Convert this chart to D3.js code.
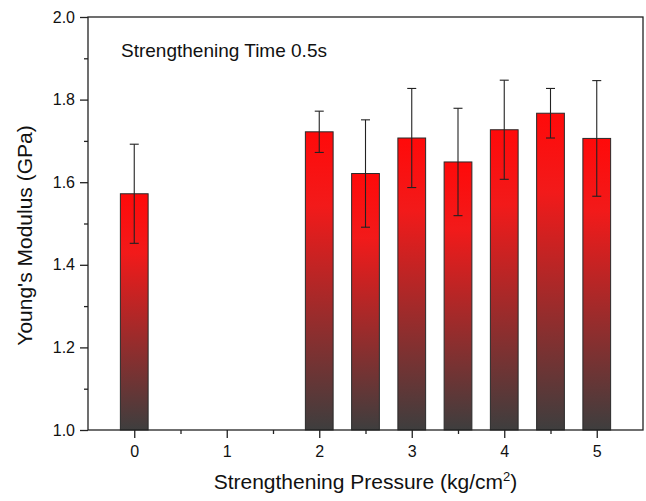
<!DOCTYPE html>
<html>
<head>
<meta charset="utf-8">
<script src="https://cdn.jsdelivr.net/npm/d3@7"></script>
<style>
  body { margin: 0; background: #fff; }
  svg { font-family: "Liberation Sans", Arial, sans-serif; }
</style>
</head>
<body>
<div id="chart"></div>
<script>
// data
const pressures = [0, 2, 2.5, 3, 3.5, 4, 4.5, 5];
const modulus = [1.572, 1.722, 1.621, 1.707, 1.649, 1.727, 1.767, 1.706];
const errors = [0.12, 0.05, 0.13, 0.12, 0.13, 0.12, 0.06, 0.14];
const xTicks = [0, 1, 2, 3, 4, 5];
const yTicks = [1.0, 1.2, 1.4, 1.6, 1.8, 2.0];

const width = 646, height = 501;
const margin = {top: 17, right: 3, bottom: 71, left: 88};

const svg = d3.select('#chart').append('svg')
    .attr('width', width)
    .attr('height', height);

const x = d3.scaleLinear().domain([-0.5, 5.5]).range([margin.left, width - margin.right]);
const y = d3.scaleLinear().domain([1.0, 2.0]).range([height - margin.bottom, margin.top]);

// gradient red -> dark grey, per bar
const grad = svg.append('defs').append('linearGradient')
    .attr('id', 'barGrad')
    .attr('x1', 0).attr('y1', 0).attr('x2', 0).attr('y2', 1);
grad.append('stop').attr('offset', '0%').attr('stop-color', '#ff0a0a');
grad.append('stop').attr('offset', '25%').attr('stop-color', '#f21a1a');
grad.append('stop').attr('offset', '100%').attr('stop-color', '#3e3e3e');

const barW = x(0.3) - x(0);

svg.append('g')
    .selectAll('rect')
    .data(pressures)
    .enter().append('rect')
    .attr('x', d => x(d) - barW / 2)
    .attr('y', (d, i) => y(modulus[i]))
    .attr('width', barW)
    .attr('height', (d, i) => y(1.0) - y(modulus[i]))
    .attr('fill', 'url(#barGrad)')
    .attr('stroke', '#2a2a2a')
    .attr('stroke-width', 1);

// error bars
const eb = svg.append('g').attr('stroke', '#222').attr('stroke-width', 1.1);
pressures.forEach((p, i) => {
    const cx = x(p);
    const top = y(modulus[i] + errors[i]);
    const bot = y(modulus[i] - errors[i]);
    eb.append('line').attr('x1', cx).attr('x2', cx).attr('y1', top).attr('y2', bot);
    eb.append('line').attr('x1', cx - 4.5).attr('x2', cx + 4.5).attr('y1', top).attr('y2', top);
    eb.append('line').attr('x1', cx - 4.5).attr('x2', cx + 4.5).attr('y1', bot).attr('y2', bot);
});

// frame
svg.append('rect')
    .attr('x', margin.left).attr('y', margin.top)
    .attr('width', width - margin.right - margin.left)
    .attr('height', height - margin.bottom - margin.top)
    .attr('fill', 'none').attr('stroke', '#222').attr('stroke-width', 1.3);

// x axis
svg.append('g')
    .attr('transform', `translate(0,${y(1.0)})`)
    .call(d3.axisBottom(x).tickValues(xTicks).tickFormat(d3.format('d')).tickSize(8).tickPadding(8));
svg.append('g')
    .attr('transform', `translate(0,${y(1.0)})`)
    .call(d3.axisBottom(x).tickValues([0.5, 1.5, 2.5, 3.5, 4.5]).tickFormat('').tickSize(4));

// y axis
svg.append('g')
    .attr('transform', `translate(${margin.left},0)`)
    .call(d3.axisLeft(y).tickValues(yTicks).tickFormat(d3.format('.1f')).tickSize(8).tickPadding(5));
svg.append('g')
    .attr('transform', `translate(${margin.left},0)`)
    .call(d3.axisLeft(y).tickValues([1.1, 1.3, 1.5, 1.7, 1.9]).tickFormat('').tickSize(4));

svg.selectAll('.domain').remove();
svg.selectAll('.tick line').attr('stroke', '#222').attr('stroke-width', 1.3);
svg.selectAll('.tick text')
    .attr('font-family', '"Liberation Sans", Arial, sans-serif')
    .attr('font-size', 16)
    .attr('fill', '#111');

// labels
svg.append('text')
    .attr('x', (margin.left + width - margin.right) / 2)
    .attr('y', 489)
    .attr('text-anchor', 'middle')
    .attr('font-size', 21)
    .attr('fill', '#111')
    .html('Strengthening Pressure (kg/cm<tspan dy="-8" font-size="13">2</tspan><tspan dy="8">)</tspan>');

svg.append('text')
    .attr('transform', `translate(32,${(margin.top + height - margin.bottom) / 2 + 12}) rotate(-90)`)
    .attr('text-anchor', 'middle')
    .attr('font-size', 21)
    .attr('fill', '#111')
    .text("Young's Modulus (GPa)");

svg.append('text')
    .attr('x', 121)
    .attr('y', 57)
    .attr('font-size', 19)
    .attr('fill', '#111')
    .text('Strengthening Time 0.5s');
</script>
</body>
</html>
